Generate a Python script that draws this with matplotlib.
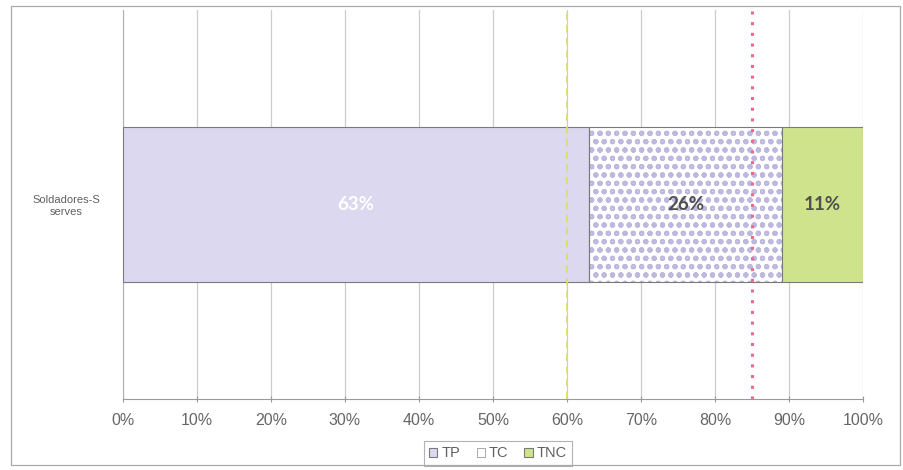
import matplotlib
matplotlib.use("Agg")
import matplotlib.pyplot as plt
from matplotlib.patches import Rectangle
from matplotlib.ticker import PercentFormatter

# Data
categories = ["Soldadores-S\nserves"]
series_names = ["TP", "TC", "TNC"]
series_values = [63, 26, 11]
value_labels = ["63%", "26%", "11%"]
reference_lines = [60, 85]
x_ticks = [0, 10, 20, 30, 40, 50, 60, 70, 80, 90, 100]

plt.rcParams["font.family"] = ["Liberation Sans", "DejaVu Sans"]
plt.rcParams["hatch.linewidth"] = 1.45

fig = plt.figure(figsize=(9.04, 4.70), dpi=100)
ax = fig.add_axes([0.136, 0.151, 0.8187, 0.828])

fills = ["#dcd8f0", "white", "#cfe38c"]
hatches = [None, "oo", None]
label_colors = ["white", "#505050", "#505050"]

left = 0
for name, val, fc, hatch, lab, lc in zip(series_names, series_values, fills,
                                         hatches, value_labels, label_colors):
    if hatch:
        # dotted fill layer
        ax.barh(0, val, left=left, height=0.4, color="white",
                edgecolor="#bcb8de", hatch=hatch, linewidth=0, zorder=2)
        ax.barh(0, val, left=left, height=0.4, color="none",
                edgecolor="#7a7a7a", linewidth=0.8, zorder=3)
        ax.barh(0, 0, color="white", edgecolor="#9a9a9a", linewidth=0.6,
                label=name)
    else:
        ax.barh(0, val, left=left, height=0.4, color=fc,
                edgecolor="#7a7a7a", linewidth=0.8, zorder=3, label=name)
    ax.text(left + val / 2, 0, lab, ha="center", va="center",
            color=lc, fontsize=13.5, fontweight="bold",
            family=["Lato", "DejaVu Sans"], zorder=5)
    left += val

# reference lines
ax.axvline(reference_lines[0], color="#dede66", linestyle=(0, (4, 3)),
           linewidth=1.3, zorder=4)
ax.axvline(reference_lines[1], color="#ec6a8a", linestyle=(0, (1, 2.5)),
           linewidth=2.2, zorder=4)

ax.set_xlim(0, 100)
ax.set_ylim(-0.5, 0.5)
ax.set_xticks(x_ticks)
ax.xaxis.set_major_formatter(PercentFormatter(decimals=0))
ax.set_yticks([0])
ax.set_yticklabels(categories, fontsize=8, color="#606060",
                   linespacing=1.15, ha="center")
ax.tick_params(axis="y", length=0, pad=41)
ax.tick_params(axis="x", colors="#999999", labelcolor="#666666",
               labelsize=11.5, length=4, direction="inout", pad=8)
ax.grid(axis="x", color="#cccccc", linewidth=0.9, zorder=0)
ax.set_axisbelow(True)
for s in ["top", "right"]:
    ax.spines[s].set_visible(False)
ax.spines["left"].set_color("#b0b0b0")
ax.spines["bottom"].set_color("#9a9a9a")

leg = ax.legend(loc="upper center", bbox_to_anchor=(0.507, -0.09), ncol=3,
                fontsize=10.5, frameon=True, fancybox=False,
                handlelength=0.55, handleheight=0.55, handletextpad=0.3,
                columnspacing=1.1, borderpad=0.35, edgecolor="#a0a0a0")
leg.get_frame().set_linewidth(0.8)
for t in leg.get_texts():
    t.set_color("#606060")

# outer chart border
fig.patches.append(Rectangle((0.012, 0.01), 0.984, 0.978,
                             transform=fig.transFigure, fill=False,
                             edgecolor="#a8a8a8", linewidth=0.9))

fig.savefig("out.png", dpi=100, facecolor="white")
